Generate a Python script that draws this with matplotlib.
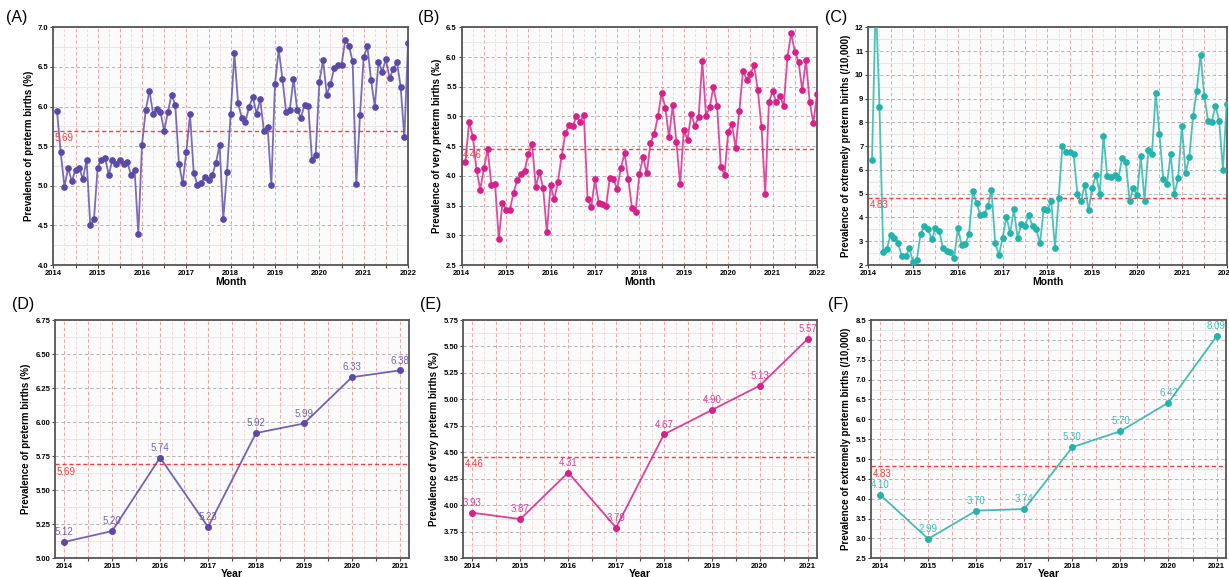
import numpy as np
import matplotlib
matplotlib.use("Agg")
import matplotlib.pyplot as plt
from matplotlib.ticker import MultipleLocator, FuncFormatter, FormatStrFormatter

plt.rcParams['font.family'] = ['Liberation Sans', 'DejaVu Sans']

# ---------------- data ----------------
years = [2014, 2015, 2016, 2017, 2018, 2019, 2020, 2021]

preterm_monthly = [
    5.94, 5.42, 4.99, 5.22, 5.06, 5.20, 5.23, 5.08, 5.33, 4.50, 4.58, 5.23,
    5.33, 5.35, 5.14, 5.33, 5.28, 5.32, 5.27, 5.30, 5.14, 5.20, 4.39, 5.52,
    5.95, 6.20, 5.91, 5.97, 5.93, 5.69, 5.93, 6.15, 6.02, 5.28, 5.03, 5.43,
    5.90, 5.16, 5.01, 5.04, 5.11, 5.07, 5.13, 5.29, 5.51, 4.58, 5.17, 5.91,
    6.67, 6.04, 5.86, 5.81, 6.00, 6.12, 5.91, 6.09, 5.69, 5.74, 5.01, 6.29,
    6.72, 6.35, 5.93, 5.96, 6.35, 5.96, 5.86, 6.02, 6.01, 5.33, 5.39, 6.31,
    6.59, 6.15, 6.28, 6.48, 6.52, 6.52, 6.84, 6.77, 6.57, 5.02, 5.89, 6.62,
    6.76, 6.33, 6.00, 6.56, 6.44, 6.60, 6.36, 6.47, 6.56, 6.25, 5.61, 6.80,
]
very_preterm_monthly = [
    4.23, 4.91, 4.66, 4.10, 3.77, 4.13, 4.45, 3.85, 3.87, 2.94, 3.54, 3.43,
    3.43, 3.72, 3.93, 4.03, 4.09, 4.37, 4.54, 3.81, 4.07, 3.79, 3.05, 3.84,
    3.61, 3.90, 4.34, 4.72, 4.86, 4.84, 5.00, 4.91, 5.03, 3.61, 3.48, 3.94,
    3.55, 3.53, 3.50, 3.96, 3.94, 3.78, 4.13, 4.38, 3.95, 3.46, 3.40, 4.03,
    4.32, 4.04, 4.56, 4.70, 5.00, 5.39, 5.15, 4.65, 5.19, 4.57, 3.86, 4.77,
    4.61, 5.04, 4.84, 4.99, 5.93, 5.01, 5.16, 5.49, 5.18, 4.15, 4.02, 4.74,
    4.87, 4.47, 5.09, 5.77, 5.62, 5.72, 5.86, 5.44, 4.82, 3.69, 5.24, 5.42,
    5.24, 5.35, 5.17, 6.00, 6.40, 6.09, 5.92, 5.44, 5.95, 5.25, 4.89, 5.37,
]
extremely_preterm_monthly = [
    6.43, 13.2, 8.66, 2.56, 2.69, 3.28, 3.15, 2.91, 2.36, 2.36, 2.70, 2.14,
    2.22, 3.30, 3.63, 3.50, 3.08, 3.54, 3.43, 2.70, 2.60, 2.56, 2.28, 3.57,
    2.84, 2.87, 3.32, 5.10, 4.59, 4.09, 4.13, 4.48, 5.16, 2.91, 2.42, 3.15,
    4.03, 3.33, 4.34, 3.14, 3.73, 3.66, 4.09, 3.63, 3.51, 2.91, 4.37, 4.31,
    4.71, 2.70, 4.82, 7.01, 6.74, 6.77, 6.67, 4.99, 4.69, 5.38, 4.30, 5.24,
    5.80, 4.99, 7.44, 5.74, 5.70, 5.80, 5.65, 6.52, 6.32, 4.69, 5.23, 4.93,
    6.57, 4.71, 6.82, 6.68, 9.25, 7.51, 5.62, 5.39, 6.67, 4.97, 5.66, 7.85,
    5.88, 6.56, 8.28, 9.34, 10.85, 9.12, 8.07, 8.03, 8.70, 8.06, 6.01, 8.77,
]

preterm_annual = [5.12, 5.20, 5.74, 5.23, 5.92, 5.99, 6.33, 6.38]
very_preterm_annual = [3.93, 3.87, 4.31, 3.79, 4.67, 4.90, 5.13, 5.57]
extremely_preterm_annual = [4.10, 2.99, 3.70, 3.74, 5.30, 5.70, 6.42, 8.09]

mean_preterm = 5.69
mean_very = 4.46
mean_extreme = 4.83

# month positions: end of each month from Jan 2014 to Dec 2021
month_pos = 2014 + np.arange(1, len(preterm_monthly) + 1) / 12.0

# ---------------- style ----------------
C_PURPLE = "#5A4AA6"
C_MAGENTA = "#D6208A"
C_TEAL = "#22B3AB"
C_MEAN = "#FF3B3B"

fig = plt.figure(figsize=(12.29, 5.77), dpi=100)
fig.patch.set_facecolor("white")

year_fmt = FuncFormatter(lambda v, p: f"{int(round(v))}" if abs(v - round(v)) < 1e-6 else "")


def style_axes(ax, major_y, minor_y, yfmt):
    ax.set_facecolor("#FBFBFB")
    for s in ax.spines.values():
        s.set_color("#555555")
        s.set_linewidth(1.3)
    ax.yaxis.set_major_locator(MultipleLocator(major_y))
    ax.yaxis.set_minor_locator(MultipleLocator(minor_y))
    ax.yaxis.set_major_formatter(FormatStrFormatter(yfmt))
    ax.xaxis.set_major_locator(MultipleLocator(0.5))
    ax.xaxis.set_minor_locator(MultipleLocator(0.25))
    ax.xaxis.set_major_formatter(year_fmt)
    ax.grid(which="major", axis="y", color="#A8A8A8", linestyle=(0, (4, 3)), linewidth=0.6)
    ax.grid(which="minor", axis="y", color="#E4E4E4", linestyle="-", linewidth=0.6)
    ax.grid(which="major", axis="x", color="#F29090", linestyle=(0, (4, 3)), linewidth=0.6)
    ax.grid(which="minor", axis="x", color="#F7C8C8", linestyle=(0, (4, 3)), linewidth=0.5)
    ax.set_axisbelow(True)
    ax.tick_params(which="major", length=2.5, width=0.8, color="#444444", labelsize=5.5, pad=1)
    ax.tick_params(which="minor", length=0, width=0.6, color="#444444")


def monthly_panel(rect, letter, letter_xy, values, color, mean, ylim, ymaj, ymin_, yfmt, ylabel):
    ax = fig.add_axes(rect)
    ax.plot(month_pos, values, color=color, lw=1.3, alpha=0.8, zorder=3)
    ax.plot(month_pos, values, ls="none", marker="o", markersize=3.8,
            markerfacecolor=color, markeredgecolor=color, zorder=4)
    ax.axhline(mean, color=C_MEAN, ls=(0, (3, 2)), lw=1.0, zorder=2)
    ax.set_xlim(2014, 2022)
    ax.set_ylim(*ylim)
    style_axes(ax, ymaj, ymin_, yfmt)
    ax.text(2014.03, mean - (ylim[1] - ylim[0]) * 0.008, f"{mean:.2f}", color=C_MEAN,
            fontsize=7, va="top", ha="left")
    ax.set_xlabel("Month", fontsize=7.5, fontweight="bold", labelpad=0)
    ax.set_ylabel(ylabel, fontsize=7, fontweight="bold", labelpad=3)
    fig.text(letter_xy[0], letter_xy[1], letter, fontsize=11.5, ha="left", va="center")
    return ax


def annual_panel(rect, letter, letter_xy, values, color, mean, ylim, ymaj, ymin_, yfmt, ylabel):
    ax = fig.add_axes(rect)
    ax.plot(years, values, color=color, lw=1.3, alpha=0.85, zorder=3)
    ax.plot(years, values, ls="none", marker="o", markersize=4.0,
            markerfacecolor=color, markeredgecolor=color, zorder=4)
    ax.axhline(mean, color=C_MEAN, ls=(0, (3, 2)), lw=1.0, zorder=2)
    ax.set_xlim(2013.81, 2021.19)
    ax.set_ylim(*ylim)
    style_axes(ax, ymaj, ymin_, yfmt)
    for x, v in zip(years, values):
        ax.annotate(f"{v:.2f}", (x, v), xytext=(0, 3.5), textcoords="offset points",
                    ha="center", va="bottom", fontsize=7, color=color, alpha=0.85)
    ax.text(2013.85, mean - (ylim[1] - ylim[0]) * 0.012, f"{mean:.2f}", color=C_MEAN,
            fontsize=7, va="top", ha="left")
    ax.set_xlabel("Year", fontsize=7.5, fontweight="bold", labelpad=-1)
    ax.set_ylabel(ylabel, fontsize=7, fontweight="bold", labelpad=3)
    fig.text(letter_xy[0], letter_xy[1], letter, fontsize=11.5, ha="left", va="center")
    return ax


top_b, top_h = 0.5407, 0.412
bot_b, bot_h = 0.0324, 0.413
top_letter_y = 0.9705
bot_letter_y = 0.473

monthly_panel([0.0434, top_b, 0.2886, top_h], "(A)", (0.005, top_letter_y), preterm_monthly,
              C_PURPLE, mean_preterm, (4.0, 7.0), 0.5, 0.25, "%.1f",
              "Prevalence of preterm births (%)")
monthly_panel([0.3757, top_b, 0.2891, top_h], "(B)", (0.340, top_letter_y), very_preterm_monthly,
              C_MAGENTA, mean_very, (2.5, 6.5), 0.5, 0.25, "%.1f",
              "Prevalence of very preterm births (‰)")
monthly_panel([0.7065, top_b, 0.2916, top_h], "(C)", (0.671, top_letter_y), extremely_preterm_monthly,
              C_TEAL, mean_extreme, (2, 12), 1, 0.5, "%d",
              "Prevalence of extremely preterm births (/10,000)")

annual_panel([0.0448, bot_b, 0.288, bot_h], "(D)", (0.0098, bot_letter_y), preterm_annual,
             C_PURPLE, mean_preterm, (5.0, 6.75), 0.25, 0.125, "%.2f",
             "Prevalence of preterm births (%)")
annual_panel([0.377, bot_b, 0.2875, bot_h], "(E)", (0.3418, bot_letter_y), very_preterm_annual,
             C_MAGENTA, mean_very, (3.5, 5.75), 0.25, 0.125, "%.2f",
             "Prevalence of very preterm births (‰)")
annual_panel([0.7087, bot_b, 0.2886, bot_h], "(F)", (0.6737, bot_letter_y), extremely_preterm_annual,
             C_TEAL, mean_extreme, (2.5, 8.5), 0.5, 0.25, "%.1f",
             "Prevalence of extremely preterm births (/10,000)")

for ax in fig.axes:
    for lab in ax.get_yticklabels() + ax.get_xticklabels():
        lab.set_fontweight("bold")
        lab.set_fontsize(5.5)

fig.savefig("out.png", dpi=100, facecolor="white")
